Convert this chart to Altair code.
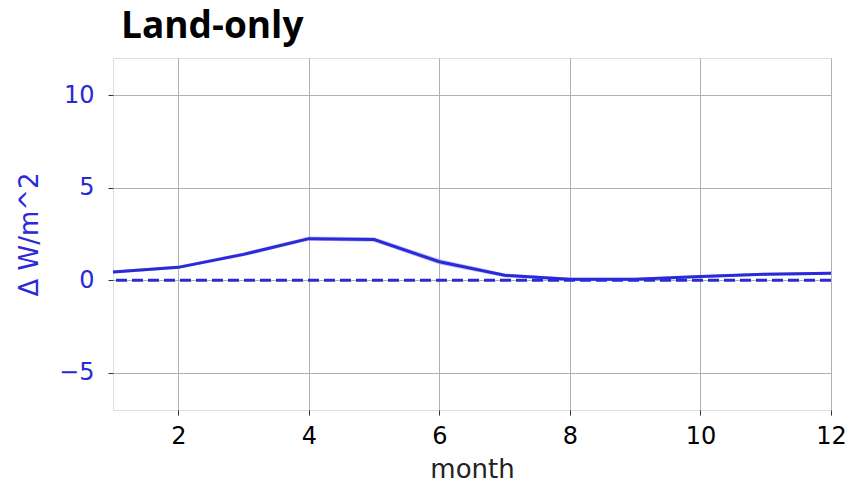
import altair as alt
import pandas as pd

months = [1, 2, 3, 4, 5, 6, 7, 8, 9, 10, 11, 12]
delta = [0.45, 0.7, 1.4, 2.25, 2.2, 1.0, 0.27, 0.06, 0.06, 0.2, 0.33, 0.38]
spread = [0.08, 0.08, 0.1, 0.12, 0.12, 0.15, 0.1, 0.08, 0.08, 0.08, 0.08, 0.08]
zero_line = [0]

df = pd.DataFrame({"month": months, "delta": delta,
                   "lo": [d - s for d, s in zip(delta, spread)],
                   "hi": [d + s for d, s in zip(delta, spread)]})
zdf = pd.DataFrame({"z": zero_line})

BLUE = "#2a2ad8"

xs = alt.Scale(domain=[1, 12], nice=False, zero=False)
ys = alt.Scale(domain=[-7, 12], nice=False, zero=False)

xaxis = alt.Axis(values=[2, 4, 6, 8, 10, 12], format="d", title="month", labelFontSize=24,
                 titleFontSize=26, labelColor="black", titleColor="#222",
                 labelFont="DejaVu Sans", titleFont="DejaVu Sans", titleFontWeight="normal",
                 tickSize=5, labelPadding=9, titlePadding=8, grid=True, gridColor="#b0b0b0",
                 tickColor="#333", domain=False, labelFlush=False)
yaxis = alt.Axis(values=[-5, 0, 5, 10], format="d", title="Δ W/m^2", labelFontSize=24,
                 titleFontSize=26, labelColor=BLUE, titleColor=BLUE,
                 labelFont="DejaVu Sans", titleFont="DejaVu Sans", titleFontWeight="normal",
                 tickSize=5, labelPadding=14, titlePadding=16, grid=True, gridColor="#b0b0b0",
                 tickColor="#333", domain=False, labelExpr="replace(datum.label, '-', '−')")

band = alt.Chart(df).mark_area(color="#9a9af5", opacity=0.6).encode(
    x=alt.X("month:Q", scale=xs, axis=xaxis),
    y=alt.Y("lo:Q", scale=ys, axis=yaxis),
    y2="hi:Q",
)
line = alt.Chart(df).mark_line(color=BLUE, strokeWidth=3).encode(
    x=alt.X("month:Q", scale=xs),
    y=alt.Y("delta:Q", scale=ys),
)
zero = alt.Chart(zdf).mark_rule(color=BLUE, strokeWidth=3, strokeDash=[11, 5]).encode(
    y=alt.Y("z:Q", scale=ys),
)

chart = alt.layer(band, line, zero).properties(
    width=718, height=352,
    title=alt.TitleParams("Land-only", font="Open Sans", fontSize=37, fontWeight="bold",
                          anchor="start", frame="group", dx=8, offset=12, color="black"),
    autosize=alt.AutoSizeParams(type="none"),
    padding={"left": 105, "top": 50, "right": 17, "bottom": 73},
).configure_view(stroke="#111", strokeWidth=1.5).configure(background="white")

chart.save("out.html", embed_options={"renderer": "svg", "actions": False})
